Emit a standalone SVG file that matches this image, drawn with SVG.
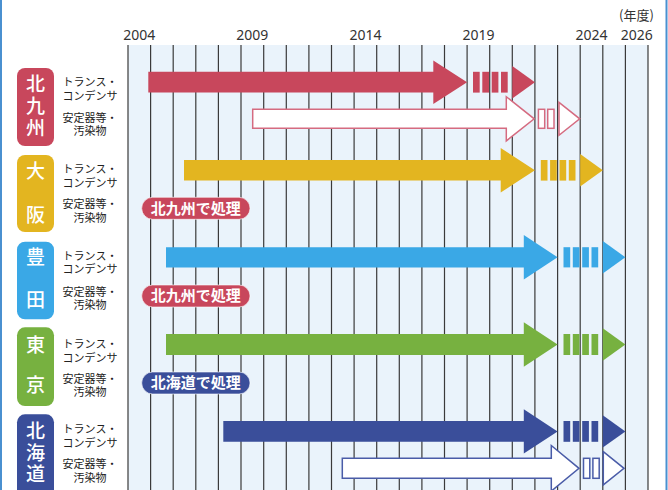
<svg xmlns="http://www.w3.org/2000/svg" width="668" height="490" viewBox="0 0 668 490">
<style>
.yr{font-family:"Noto Sans","Open Sans",sans-serif;font-size:14px;fill:#333;text-anchor:middle}
.lb{font-family:"Noto Sans CJK JP","Noto Sans",sans-serif;font-size:11px;fill:#222;text-anchor:middle}
.bt{font-family:"Noto Sans CJK JP","Noto Sans",sans-serif;font-size:19px;fill:#fff;text-anchor:middle;font-weight:500}
.pt{font-family:"Noto Sans CJK JP","Noto Sans",sans-serif;font-size:15px;fill:#fff;text-anchor:middle;font-weight:700}
.g{stroke:#3a3a3a;stroke-width:1.2}
.red{fill:#C8475C}.yel{fill:#E3B520}.blu{fill:#3AA8E6}.grn{fill:#77B140}.nav{fill:#3A4E9A}
.wr{fill:#fff;stroke:#D56B80;stroke-width:1.5}
.wn{fill:#fff;stroke:#4A5CA8;stroke-width:1.5}
.pill{stroke:#fff;stroke-opacity:0.6;stroke-width:1}
</style>
<rect x="0" y="0" width="668" height="490" fill="#fff"/>
<line x1="1" y1="0" x2="1" y2="490" stroke="#4A90D0" stroke-width="2"/>
<line x1="666.5" y1="0" x2="666.5" y2="490" stroke="#4A90D0" stroke-width="2"/>
<g id="grid">
<rect x="128" y="45" width="520" height="445" fill="#EAF3FB"/>
<line class="g" x1="128" y1="45" x2="128" y2="490"/>
<line class="g" x1="150.6" y1="45" x2="150.6" y2="490"/>
<line class="g" x1="173.2" y1="45" x2="173.2" y2="490"/>
<line class="g" x1="195.8" y1="45" x2="195.8" y2="490"/>
<line class="g" x1="218.4" y1="45" x2="218.4" y2="490"/>
<line class="g" x1="241.0" y1="45" x2="241.0" y2="490"/>
<line class="g" x1="263.7" y1="45" x2="263.7" y2="490"/>
<line class="g" x1="286.3" y1="45" x2="286.3" y2="490"/>
<line class="g" x1="308.9" y1="45" x2="308.9" y2="490"/>
<line class="g" x1="331.5" y1="45" x2="331.5" y2="490"/>
<line class="g" x1="354.1" y1="45" x2="354.1" y2="490"/>
<line class="g" x1="376.7" y1="45" x2="376.7" y2="490"/>
<line class="g" x1="399.3" y1="45" x2="399.3" y2="490"/>
<line class="g" x1="421.9" y1="45" x2="421.9" y2="490"/>
<line class="g" x1="444.5" y1="45" x2="444.5" y2="490"/>
<line class="g" x1="467.1" y1="45" x2="467.1" y2="490"/>
<line class="g" x1="489.7" y1="45" x2="489.7" y2="490"/>
<line class="g" x1="512.3" y1="45" x2="512.3" y2="490"/>
<line class="g" x1="534.9" y1="45" x2="534.9" y2="490"/>
<line class="g" x1="557.6" y1="45" x2="557.6" y2="490"/>
<line class="g" x1="580.2" y1="45" x2="580.2" y2="490"/>
<line class="g" x1="602.8" y1="45" x2="602.8" y2="490"/>
<line class="g" x1="625.4" y1="45" x2="625.4" y2="490"/>
<line class="g" x1="648" y1="45" x2="648" y2="490"/>
</g>
<g id="axis">
<text class="yr" x="636.5" y="20" style="font-family:'Noto Sans CJK JP','Noto Sans',sans-serif;font-size:13px">(年度)</text>
<text class="yr" x="139.3" y="40">2004</text>
<text class="yr" x="252.3" y="40">2009</text>
<text class="yr" x="365.4" y="40">2014</text>
<text class="yr" x="478.4" y="40">2019</text>
<text class="yr" x="591.5" y="40">2024</text>
<text class="yr" x="636.7" y="40">2026</text>
</g>
<g id="row-kitakyushu">
<rect class="red" x="17" y="68" width="37" height="78" rx="8"/>
<text class="bt" x="35.5" y="91">北</text>
<text class="bt" x="35.5" y="113">九</text>
<text class="bt" x="35.5" y="135">州</text>
<text class="lb" x="90" y="86">トランス・</text>
<text class="lb" x="90" y="100">コンデンサ</text>
<text class="lb" x="90" y="121.5">安定器等・</text>
<text class="lb" x="90" y="135">汚染物</text>
</g>
<g id="row-osaka">
<rect class="yel" x="17" y="155" width="37" height="77" rx="8"/>
<text class="bt" x="35.5" y="178">大</text>
<text class="bt" x="35.5" y="221.5">阪</text>
<text class="lb" x="90" y="173">トランス・</text>
<text class="lb" x="90" y="186.5">コンデンサ</text>
<text class="lb" x="90" y="208">安定器等・</text>
<text class="lb" x="90" y="221.5">汚染物</text>
<rect class="red pill" x="141.7" y="197.3" width="108.3" height="22" rx="11"/>
<text class="pt" x="195.8" y="213.6">北九州で処理</text>
</g>
<g id="row-toyota">
<rect class="blu" x="17" y="241.7" width="37" height="77.6" rx="8"/>
<text class="bt" x="35.5" y="264">豊</text>
<text class="bt" x="35.5" y="307">田</text>
<text class="lb" x="90" y="260">トランス・</text>
<text class="lb" x="90" y="273">コンデンサ</text>
<text class="lb" x="90" y="295.7">安定器等・</text>
<text class="lb" x="90" y="309">汚染物</text>
<rect class="red pill" x="141.7" y="285" width="108.3" height="22" rx="11"/>
<text class="pt" x="195.8" y="301.3">北九州で処理</text>
</g>
<g id="row-tokyo">
<rect class="grn" x="17" y="327.3" width="37" height="78.7" rx="8"/>
<text class="bt" x="35.5" y="352">東</text>
<text class="bt" x="35.5" y="392">京</text>
<text class="lb" x="90" y="348">トランス・</text>
<text class="lb" x="90" y="362">コンデンサ</text>
<text class="lb" x="90" y="383">安定器等・</text>
<text class="lb" x="90" y="396">汚染物</text>
<rect class="nav pill" x="141.7" y="372" width="108.3" height="22" rx="11"/>
<text class="pt" x="195.8" y="388.3">北海道で処理</text>
</g>
<g id="row-hokkaido">
<rect class="nav" x="17" y="414.3" width="37" height="90" rx="8"/>
<text class="bt" x="35.5" y="438">北</text>
<text class="bt" x="35.5" y="459.5">海</text>
<text class="bt" x="35.5" y="481">道</text>
<text class="lb" x="90" y="433">トランス・</text>
<text class="lb" x="90" y="446.5">コンデンサ</text>
<text class="lb" x="90" y="468">安定器等・</text>
<text class="lb" x="90" y="481.5">汚染物</text>
</g>
<g id="connectors">
<!-- row 1 red -->
<polygon class="red" points="148.3,71.8 433.3,71.8 433.3,60.5 467.1,82.2 433.3,103.9 433.3,92.6 148.3,92.6"/>
<rect class="red" x="473" y="71.8" width="6.7" height="20.8"/>
<rect class="red" x="482.3" y="71.8" width="6.7" height="20.8"/>
<rect class="red" x="491.7" y="71.8" width="6.7" height="20.8"/>
<rect class="red" x="501" y="71.8" width="6.7" height="20.8"/>
<polygon class="red" points="512.3,66 534.9,82.2 512.3,98.4"/>
<!-- row 1 white -->
<polygon class="wr" points="252.7,109.3 506.3,109.3 506.3,96.7 534.2,118.8 506.3,140.9 506.3,128.3 252.7,128.3"/>
<rect class="wr" x="538.4" y="109.3" width="6.3" height="19"/>
<rect class="wr" x="547.7" y="109.3" width="6.3" height="19"/>
<polygon class="wr" points="559,102.3 579.7,118.8 559,135.3"/>
<!-- row 2 yellow -->
<polygon class="yel" points="184,160 500.7,160 500.7,148 534.9,170.3 500.7,192.6 500.7,180.6 184,180.6"/>
<rect class="yel" x="540.8" y="160" width="6.7" height="20.6"/>
<rect class="yel" x="550.1" y="160" width="6.7" height="20.6"/>
<rect class="yel" x="559.5" y="160" width="6.7" height="20.6"/>
<rect class="yel" x="568.8" y="160" width="6.7" height="20.6"/>
<polygon class="yel" points="580.2,154 602.8,170.3 580.2,186.6"/>
<!-- row 3 blue -->
<polygon class="blu" points="166,247.2 523.8,247.2 523.8,235 557.6,257.3 523.8,279.6 523.8,267.4 166,267.4"/>
<rect class="blu" x="563.5" y="247.2" width="6.7" height="20.2"/>
<rect class="blu" x="572.8" y="247.2" width="6.7" height="20.2"/>
<rect class="blu" x="582.2" y="247.2" width="6.7" height="20.2"/>
<rect class="blu" x="591.5" y="247.2" width="6.7" height="20.2"/>
<polygon class="blu" points="602.8,241 625.4,257.3 602.8,273.6"/>
<!-- row 4 green -->
<polygon class="grn" points="166,334 523.8,334 523.8,322.2 557.6,344.5 523.8,366.8 523.8,355 166,355"/>
<rect class="grn" x="563.5" y="334" width="6.7" height="21"/>
<rect class="grn" x="572.8" y="334" width="6.7" height="21"/>
<rect class="grn" x="582.2" y="334" width="6.7" height="21"/>
<rect class="grn" x="591.5" y="334" width="6.7" height="21"/>
<polygon class="grn" points="602.8,328.2 625.4,344.5 602.8,360.8"/>
<!-- row 5 navy -->
<polygon class="nav" points="223.3,421 523.8,421 523.8,409.2 557.6,431.4 523.8,453.6 523.8,441.8 223.3,441.8"/>
<rect class="nav" x="563.5" y="421" width="6.7" height="20.8"/>
<rect class="nav" x="572.8" y="421" width="6.7" height="20.8"/>
<rect class="nav" x="582.2" y="421" width="6.7" height="20.8"/>
<rect class="nav" x="591.5" y="421" width="6.7" height="20.8"/>
<polygon class="nav" points="602.8,415.2 625.4,431.4 602.8,447.6"/>
<!-- row 5 white -->
<polygon class="wn" points="342.3,458.3 551.3,458.3 551.3,445.5 579,468.3 551.3,491.1 551.3,478.3 342.3,478.3"/>
<rect class="wn" x="583.5" y="458.3" width="6.3" height="20"/>
<rect class="wn" x="592.9" y="458.3" width="6.3" height="20"/>
<polygon class="wn" points="603.3,451.7 624,468.3 603.3,484.9"/>
</g>
</svg>
